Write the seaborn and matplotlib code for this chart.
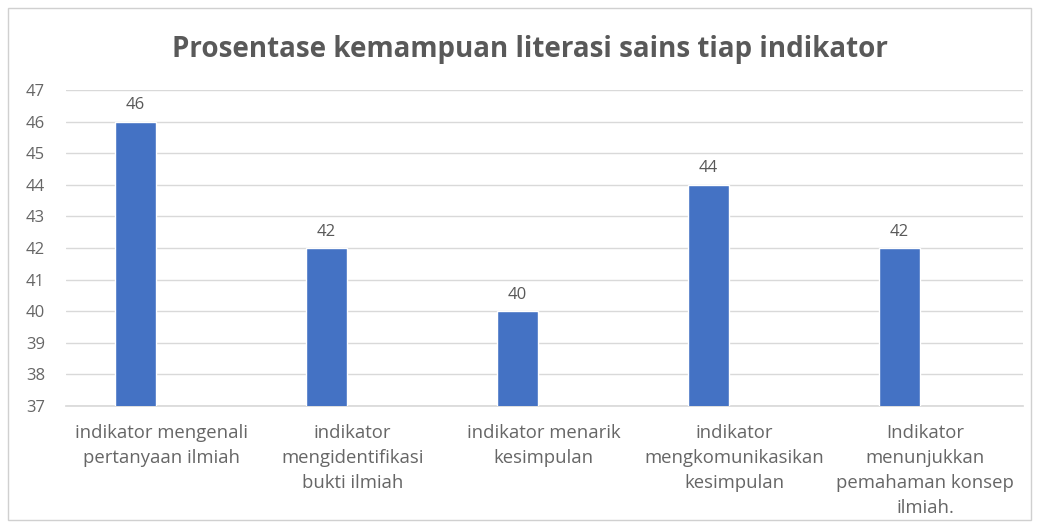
import matplotlib
matplotlib.use("Agg")
import matplotlib.pyplot as plt
import seaborn as sns
import pandas as pd
from matplotlib.patches import Rectangle

categories = [
    "indikator mengenali\npertanyaan ilmiah",
    "indikator\nmengidentifikasi\nbukti ilmiah",
    "indikator menarik\nkesimpulan",
    "indikator\nmengkomunikasikan\nkesimpulan",
    "Indikator\nmenunjukkan\npemahaman konsep\nilmiah.",
]
values = [46, 42, 40, 44, 42]
title = "Prosentase kemampuan literasi sains tiap indikator"
yticks = list(range(37, 48))

sns.set_theme(style="white")
plt.rcParams['font.family'] = ['Open Sans', 'DejaVu Sans']

df = pd.DataFrame({"cat": categories, "val": values})

fig = plt.figure(figsize=(10.4, 5.26), dpi=100)
fig.patch.set_facecolor("white")
fig.add_artist(Rectangle((0.008, 0.012), 0.983, 0.972, transform=fig.transFigure,
                         fill=False, edgecolor="#d0d0d0", linewidth=1.0))
ax = fig.add_axes([0.0635, 0.228, 0.9205, 0.601])
sns.barplot(data=df, x="cat", y="val", color="#4472C4", width=0.215,
            saturation=1, ax=ax, zorder=3)
ax.set_ylim(37, 47)
ax.set_xlim(-0.364, 4.649)
ax.set_xticks([i + 0.136 for i in range(len(categories))])
ax.set_xticklabels(categories)
ax.set_yticks(yticks)
ax.yaxis.grid(True, color="#d9d9d9", linewidth=1.0, zorder=0)
ax.set_axisbelow(True)
for s in ["top", "right", "left"]:
    ax.spines[s].set_visible(False)
ax.spines["bottom"].set_color("#d9d9d9")
ax.set_xlabel("")
ax.set_ylabel("")
ax.tick_params(axis="y", length=0, labelsize=12, colors="#666666", pad=29)
ax.tick_params(axis="x", length=0, labelsize=13.3, colors="#666666", pad=13)
for lbl in ax.get_yticklabels():
    lbl.set_horizontalalignment("left")
for lbl in ax.get_xticklabels():
    lbl.set_linespacing(1.5)
for c in ax.containers:
    ax.bar_label(c, labels=[str(v) for v in values], padding=6,
                 fontsize=12, color="#595959")
fig.text(0.51, 0.905, title, ha="center", va="center", fontsize=20,
         fontweight="bold", color="#595959")
fig.savefig("out.png", dpi=100)
